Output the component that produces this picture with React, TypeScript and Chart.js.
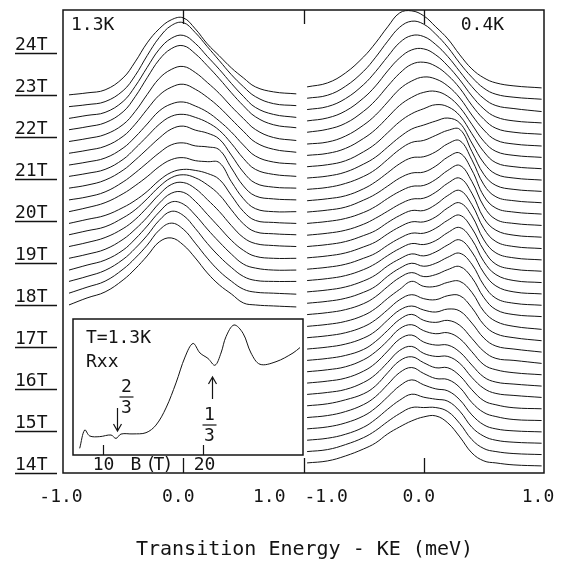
import React, { useEffect, useRef } from "react";
import { Chart, registerables } from "chart.js";

Chart.register(...registerables);

// ---------- data ----------
// energy grid (meV) of the sampled spectra, left panel (1.3K) and right panel (0.4K)
const ENERGY_LEFT = [-0.95, -0.8, -0.65, -0.5, -0.4, -0.3, -0.2, -0.1, 0, 0.1, 0.2, 0.3, 0.4, 0.5, 0.6, 0.75, 0.94];
const ENERGY_RIGHT = [-0.97, -0.8, -0.65, -0.5, -0.4, -0.3, -0.2, -0.1, 0, 0.1, 0.2, 0.3, 0.4, 0.5, 0.6, 0.75, 0.98];

// magnetic field (T) at which each spectrum is offset, bottom to top
const FIELD_LEFT = [18.0, 18.28, 18.56, 18.83, 19.11, 19.39, 19.67, 19.94, 20.22, 20.5, 20.78, 21.06, 21.33, 21.61, 21.89, 22.17, 22.44, 22.72, 23.0];
const FIELD_RIGHT = [
  14.24, 14.51, 14.78, 15.05, 15.32, 15.6, 15.87, 16.14, 16.41, 16.68, 16.95, 17.22, 17.49, 17.77, 18.04, 18.31, 18.58,
  18.85, 19.12, 19.39, 19.66, 19.94, 20.21, 20.48, 20.75, 21.02, 21.29, 21.56, 21.83, 22.11, 22.38, 22.65, 22.92, 23.19,
];

// luminescence intensity (arb. units), bottom to top
const SPECTRA_LEFT = [
  [0, 7, 13, 25, 36, 49, 63, 67, 60, 47, 32, 20, 11, 2, 0, -1, -2],
  [0, 6, 12, 24, 35, 48, 63, 70, 64, 50, 35, 22, 12, 4, 1, 0, -1],
  [0, 5, 11, 22, 33, 46, 61, 70, 66, 53, 38, 25, 14, 5, 1, 0, 0],
  [0, 5, 10, 20, 31, 44, 58, 68, 66, 55, 41, 28, 16, 6, 2, 0, 0],
  [0, 4, 9, 19, 29, 41, 55, 65, 66, 57, 44, 31, 18, 8, 2, 0, 0],
  [0, 4, 9, 18, 27, 39, 52, 62, 64, 58, 47, 35, 21, 9, 3, 1, 0],
  [0, 4, 8, 17, 25, 36, 48, 57, 60, 57, 50, 40, 25, 11, 3, 1, 0],
  [0, 4, 8, 16, 23, 32, 43, 51, 54, 53, 50, 44, 28, 12, 3, 1, 0],
  [0, 4, 9, 18, 26, 35, 45, 52, 54, 51, 50, 49, 30, 13, 3, 0, 0],
  [0, 3, 8, 18, 27, 37, 47, 55, 57, 54, 53, 50, 32, 14, 4, 1, 0],
  [0, 3, 8, 18, 28, 39, 50, 59, 62, 58, 55, 49, 33, 16, 5, 1, 0],
  [0, 3, 7, 17, 28, 40, 52, 60, 62, 59, 54, 46, 33, 18, 7, 2, 0],
  [0, 3, 7, 17, 28, 41, 54, 61, 63, 59, 53, 44, 33, 20, 9, 3, 1],
  [0, 3, 7, 17, 29, 44, 58, 66, 69, 64, 56, 46, 34, 22, 11, 4, 1],
  [0, 3, 7, 17, 30, 47, 63, 72, 75, 69, 59, 48, 35, 23, 12, 4, 1],
  [0, 3, 7, 18, 33, 52, 70, 81, 84, 76, 64, 51, 37, 24, 13, 5, 2],
  [0, 3, 6, 17, 32, 51, 69, 80, 83, 75, 62, 49, 35, 22, 11, 4, 1],
  [0, 2, 5, 16, 31, 51, 69, 81, 84, 74, 60, 46, 32, 20, 10, 3, 1],
  [0, 2, 5, 17, 33, 52, 66, 75, 77, 66, 51, 39, 27, 17, 8, 3, 1],
];

const SPECTRA_RIGHT = [
  [0, 2, 7, 14, 20, 29, 36, 42, 46, 47, 40, 26, 10, 2, 0, -2, -3],
  [0, 2, 7, 14, 21, 30, 38, 44, 44, 44, 40, 28, 12, 3, 0, -2, -3],
  [0, 2, 6, 13, 21, 31, 40, 46, 43, 41, 39, 29, 13, 4, 0, -2, -3],
  [0, 2, 6, 13, 21, 32, 43, 49, 44, 40, 38, 29, 14, 4, 0, -2, -3],
  [0, 2, 6, 13, 21, 33, 45, 50, 44, 39, 38, 30, 15, 5, 1, -2, -3],
  [0, 2, 6, 12, 20, 33, 45, 49, 43, 38, 38, 30, 16, 5, 1, -2, -3],
  [0, 2, 5, 12, 20, 32, 44, 48, 41, 38, 38, 31, 17, 6, 1, -1, -3],
  [0, 2, 5, 12, 20, 32, 44, 48, 41, 38, 38, 31, 18, 6, 1, -1, -3],
  [0, 2, 5, 12, 20, 31, 43, 47, 41, 38, 39, 33, 20, 7, 2, -1, -3],
  [0, 2, 5, 11, 19, 30, 41, 46, 40, 38, 40, 35, 22, 9, 2, 0, -3],
  [0, 2, 5, 11, 18, 29, 39, 43, 39, 37, 40, 38, 26, 11, 3, 0, -3],
  [0, 2, 5, 11, 18, 28, 38, 43, 39, 38, 42, 42, 30, 13, 4, 0, -3],
  [0, 2, 5, 11, 18, 28, 37, 45, 40, 40, 44, 45, 34, 15, 5, 0, -3],
  [0, 2, 5, 11, 18, 28, 37, 42, 38, 40, 45, 48, 37, 17, 5, 0, -2],
  [0, 2, 5, 11, 17, 27, 35, 40, 37, 40, 46, 50, 39, 18, 5, 0, -2],
  [0, 2, 5, 11, 17, 26, 33, 38, 36, 40, 47, 52, 40, 19, 6, 0, -2],
  [0, 2, 5, 11, 17, 25, 32, 37, 36, 40, 48, 53, 41, 19, 6, 0, -2],
  [0, 2, 5, 11, 16, 24, 31, 36, 36, 41, 49, 54, 41, 19, 5, 0, -2],
  [0, 2, 5, 11, 16, 24, 31, 36, 36, 41, 50, 55, 42, 18, 5, 0, -2],
  [0, 2, 5, 11, 16, 24, 31, 36, 36, 42, 51, 56, 42, 18, 5, 0, -2],
  [0, 2, 5, 11, 17, 24, 31, 36, 37, 43, 52, 57, 42, 17, 5, 0, -2],
  [0, 2, 5, 11, 17, 25, 32, 37, 38, 44, 53, 58, 42, 17, 4, 0, -2],
  [0, 2, 5, 12, 18, 26, 34, 39, 40, 46, 55, 59, 42, 16, 4, 0, -2],
  [0, 2, 5, 12, 19, 28, 37, 43, 44, 49, 57, 60, 41, 16, 4, 0, -2],
  [0, 2, 6, 13, 20, 30, 40, 47, 49, 54, 59, 60, 38, 15, 4, 0, -2],
  [0, 2, 6, 14, 21, 31, 41, 49, 53, 57, 60, 55, 35, 15, 4, 0, -2],
  [0, 2, 6, 15, 23, 34, 45, 53, 58, 62, 60, 51, 33, 15, 4, 0, -2],
  [0, 2, 7, 17, 26, 38, 50, 58, 63, 64, 59, 48, 31, 14, 4, 0, -2],
  [0, 2, 8, 19, 29, 42, 55, 63, 67, 65, 58, 46, 29, 14, 4, 0, -2],
  [0, 3, 9, 21, 32, 46, 59, 68, 70, 66, 57, 44, 27, 13, 4, 0, -2],
  [0, 3, 10, 23, 35, 50, 63, 71, 72, 66, 55, 41, 25, 12, 4, 0, -2],
  [0, 3, 11, 25, 38, 53, 67, 74, 73, 65, 53, 38, 23, 11, 4, 1, -2],
  [0, 3, 12, 27, 41, 57, 71, 77, 74, 64, 51, 35, 21, 10, 4, 1, -1],
  [0, 4, 14, 30, 44, 60, 74, 76, 71, 60, 48, 32, 18, 9, 4, 1, -1],
];

// intensity units per tesla of vertical offset
const INTENSITY_PER_TESLA = 42;
// right panel energy axis is shifted by this amount on the shared x scale
const PANEL_SHIFT = 2;

const FIELD_TICKS = [14, 15, 16, 17, 18, 19, 20, 21, 22, 23, 24];
const ENERGY_TICKS = [-1, 0, 1];
const PANEL_LABELS = ["1.3K", "0.4K"];
const X_TITLE = "Transition Energy - KE (meV)";

// inset: Rxx vs B at 1.3K
const INSET_B = [7.67, 8.17, 8.67, 9.67, 10.8, 11.3, 11.8, 13.0, 14.3, 15.3, 16.3, 17.3, 18.2, 19.0, 19.7, 20.5, 21.2, 21.8, 22.3, 23.1, 24.0, 24.8, 25.7, 27.3, 29.0, 29.7];
const INSET_RXX = [4.9, 18.4, 14.0, 13.5, 14.7, 12.2, 15.4, 15.5, 16.4, 22, 34.6, 53, 72, 82, 75, 71, 66, 75, 87, 95.6, 89.5, 75, 66.7, 68.6, 75, 79];
const INSET_B_TICKS = [10, 20];
const INSET_LABELS = ["T=1.3K", "Rxx"];
const FILLING_MARKS = [
  { b: 11.4, num: "2", den: "3", dir: "down" },
  { b: 20.9, num: "1", den: "3", dir: "up" },
];

// ---------- style ----------
const INK = "#141414";
const FONT = "'DejaVu Sans Mono', 'Liberation Mono', monospace";

function buildDatasets() {
  const sets: any[] = [];
  SPECTRA_LEFT.forEach((row, i) => {
    sets.push({
      data: row.map((v, k) => ({ x: ENERGY_LEFT[k], y: FIELD_LEFT[i] + v / INTENSITY_PER_TESLA })),
    });
  });
  SPECTRA_RIGHT.forEach((row, j) => {
    sets.push({
      data: row.map((v, k) => ({ x: ENERGY_RIGHT[k] + PANEL_SHIFT, y: FIELD_RIGHT[j] + v / INTENSITY_PER_TESLA })),
    });
  });
  return sets.map((s) => ({
    ...s,
    borderColor: INK,
    borderWidth: 1,
    pointRadius: 0,
    tension: 0.4,
    fill: false,
  }));
}

const mainPlugin = {
  id: "mainDecor",
  beforeDraw(chart: any) {
    const { ctx, width, height } = chart;
    ctx.save();
    ctx.fillStyle = "#fff";
    ctx.fillRect(0, 0, width, height);
    ctx.restore();
  },
  afterDraw(chart: any) {
    const { ctx, chartArea: a, scales } = chart;
    const x = scales.x;
    const y = scales.y;
    ctx.save();
    ctx.strokeStyle = INK;
    ctx.fillStyle = INK;
    ctx.lineWidth = 1.5;
    ctx.strokeRect(a.left, a.top, a.right - a.left, a.bottom - a.top);

    // ticks at 0 of each panel and at the panel boundary
    ctx.lineWidth = 1.3;
    const tickVals = [0, 1, PANEL_SHIFT];
    tickVals.forEach((v) => {
      const px = Math.round(x.getPixelForValue(v)) + 0.5;
      ctx.beginPath();
      ctx.moveTo(px, a.top);
      ctx.lineTo(px, a.top + 14);
      ctx.moveTo(px, a.bottom);
      ctx.lineTo(px, a.bottom - 15);
      ctx.stroke();
    });

    // energy tick labels
    ctx.font = `18px ${FONT}`;
    ctx.textBaseline = "alphabetic";
    const labY = a.bottom + 29;
    [0, PANEL_SHIFT].forEach((shift, p) => {
      ENERGY_TICKS.forEach((t) => {
        const px = x.getPixelForValue(t + shift);
        const txt = t.toFixed(1);
        if (p === 0 && t === 1) {
          ctx.textAlign = "right";
          ctx.fillText(txt, px - 18, labY);
        } else if (p === 1 && t === -1) {
          ctx.textAlign = "left";
          ctx.fillText(txt, px + 1, labY);
        } else {
          ctx.textAlign = "center";
          ctx.fillText(txt, px - (t === 0 ? 5 : t < 0 ? 2 : 6), labY);
        }
      });
    });

    // field labels with underline
    ctx.textAlign = "left";
    FIELD_TICKS.forEach((b) => {
      const py = Math.round(y.getPixelForValue(b)) + 0.5;
      ctx.lineWidth = 1.3;
      ctx.beginPath();
      ctx.moveTo(15, py);
      ctx.lineTo(57, py);
      ctx.stroke();
      ctx.fillText(`${b}T`, 15, py - 4);
    });

    // panel temperature labels
    ctx.fillText(PANEL_LABELS[0], a.left + 8, a.top + 20);
    ctx.fillText(PANEL_LABELS[1], x.getPixelForValue(PANEL_SHIFT) + 37, a.top + 20);

    // axis title
    ctx.textAlign = "center";
    ctx.font = `20px ${FONT}`;
    ctx.fillText(X_TITLE, (a.left + a.right) / 2 + 1, a.bottom + 82);
    ctx.restore();
  },
};

function arrow(ctx: CanvasRenderingContext2D, x: number, y0: number, y1: number) {
  // shaft from y0 to head at y1
  const dir = y1 > y0 ? 1 : -1;
  ctx.beginPath();
  ctx.moveTo(x, y0);
  ctx.lineTo(x, y1);
  ctx.moveTo(x - 4, y1 - dir * 7);
  ctx.lineTo(x, y1);
  ctx.lineTo(x + 4, y1 - dir * 7);
  ctx.stroke();
}

function fraction(ctx: CanvasRenderingContext2D, cx: number, numBase: number, num: string, den: string) {
  ctx.textAlign = "center";
  ctx.fillText(num, cx, numBase);
  ctx.beginPath();
  ctx.moveTo(cx - 7, numBase + 5);
  ctx.lineTo(cx + 7, numBase + 5);
  ctx.stroke();
  ctx.fillText(den, cx, numBase + 21);
}

const insetPlugin = {
  id: "insetDecor",
  beforeDatasetsDraw(chart: any) {
    const { ctx, chartArea: a } = chart;
    ctx.save();
    ctx.fillStyle = "#fff";
    ctx.fillRect(a.left, a.top, a.right - a.left, a.bottom - a.top);
    ctx.restore();
  },
  afterDraw(chart: any) {
    const { ctx, chartArea: a, scales } = chart;
    const x = scales.x;
    ctx.save();
    ctx.strokeStyle = INK;
    ctx.fillStyle = INK;
    ctx.lineWidth = 1.5;
    ctx.strokeRect(a.left, a.top, a.right - a.left, a.bottom - a.top);
    ctx.lineWidth = 1.2;
    ctx.font = `18px ${FONT}`;
    ctx.textBaseline = "alphabetic";
    INSET_B_TICKS.forEach((b) => {
      const px = Math.round(x.getPixelForValue(b)) + 0.5;
      ctx.beginPath();
      ctx.moveTo(px, a.bottom);
      ctx.lineTo(px, a.bottom - 10);
      ctx.stroke();
      ctx.textAlign = "center";
      ctx.fillText(String(b), px + (b === 20 ? 1 : 0), a.bottom + 15);
    });
    // axis name "B (T)" with narrow parentheses, as in the plotter lettering
    const p10 = x.getPixelForValue(10);
    const base = a.bottom + 15;
    ctx.textAlign = "center";
    ctx.fillText("B", p10 + 33, base);
    ctx.fillText("(", p10 + 48, base);
    ctx.fillText("T", p10 + 56, base);
    ctx.fillText(")", p10 + 65, base);

    ctx.textAlign = "left";
    ctx.fillText(INSET_LABELS[0], a.left + 13, a.top + 24);
    ctx.fillText(INSET_LABELS[1], a.left + 13, a.top + 48);

    FILLING_MARKS.forEach((m) => {
      const px = Math.round(x.getPixelForValue(m.b)) + 0.5;
      if (m.dir === "down") {
        arrow(ctx, px, a.top + 89, a.top + 112);
        fraction(ctx, px + 9, a.top + 73, m.num, m.den);
      } else {
        arrow(ctx, px, a.top + 80, a.top + 58);
        fraction(ctx, px - 3, a.top + 101, m.num, m.den);
      }
    });
    ctx.restore();
  },
};

export default function App() {
  const mainRef = useRef<HTMLCanvasElement>(null);
  const insetRef = useRef<HTMLCanvasElement>(null);

  useEffect(() => {
    document.body.style.margin = "0";
    const main = new Chart(mainRef.current as HTMLCanvasElement, {
      type: "line",
      data: { datasets: buildDatasets() },
      options: {
        animation: false,
        responsive: false,
        devicePixelRatio: 1,
        layout: { padding: { left: 63, right: 19, top: 10, bottom: 90 } },
        scales: {
          x: { type: "linear", min: -1, max: 3, display: false },
          y: { type: "linear", min: 14, max: 25.02, display: false },
        },
        plugins: { legend: { display: false }, tooltip: { enabled: false } },
        events: [],
      },
      plugins: [mainPlugin],
    } as any);

    const inset = new Chart(insetRef.current as HTMLCanvasElement, {
      type: "line",
      data: {
        datasets: [
          {
            data: INSET_B.map((b, k) => ({ x: b, y: INSET_RXX[k] })),
            borderColor: INK,
            borderWidth: 1,
            pointRadius: 0,
            tension: 0.35,
            fill: false,
          },
        ],
      },
      options: {
        animation: false,
        responsive: false,
        devicePixelRatio: 1,
        layout: { padding: { left: 13, right: 7, top: 4, bottom: 23 } },
        scales: {
          x: { type: "linear", min: 7, max: 30, display: false },
          y: { type: "linear", min: 0, max: 100, display: false },
        },
        plugins: { legend: { display: false }, tooltip: { enabled: false } },
        events: [],
      },
      plugins: [insetPlugin],
    } as any);

    return () => {
      main.destroy();
      inset.destroy();
    };
  }, []);

  return (
    <div style={{ position: "relative", width: 563, height: 563 }}>
      <canvas ref={mainRef} width={563} height={563} style={{ position: "absolute", left: 0, top: 0, display: "block" }} />
      <canvas ref={insetRef} width={250} height={163} style={{ position: "absolute", left: 60, top: 315, display: "block" }} />
    </div>
  );
}
